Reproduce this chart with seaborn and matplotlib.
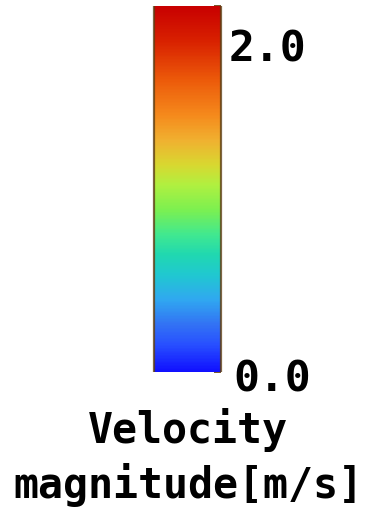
import numpy as np
import pandas as pd
import matplotlib
matplotlib.use("Agg")
import matplotlib.pyplot as plt
import matplotlib.transforms as mtransforms
from matplotlib.colors import LinearSegmentedColormap
from matplotlib.ticker import MultipleLocator
from matplotlib.lines import Line2D
import seaborn as sns

sns.set_theme(style="white")
plt.rcParams["font.family"] = ["DejaVu Sans Mono", "DejaVu Sans"]

# ---- data ----
velocity_range = [0.0, 2.0]
tick_values = [2.0, 0.0]
tick_labels = ["2.0", "0.0"]
title_lines = ["Velocity", "magnitude[m/s]"]
minor_step = 0.2
cmap_positions = [0.0, 0.074, 0.128, 0.197, 0.265, 0.320, 0.374, 0.443,
                  0.511, 0.566, 0.634, 0.702, 0.798, 0.907, 1.0]
cmap_colors = ["#1010ff", "#2850ff", "#3272f4", "#30a8f0", "#20c8d0", "#20d8b0",
               "#40e890", "#7cf050", "#b0f040", "#d8d830", "#f0b030", "#f58a1c",
               "#ec5a0a", "#d82000", "#c80000"]

cmap = LinearSegmentedColormap.from_list("velocity", list(zip(cmap_positions, cmap_colors)))

W, H = 369, 511
fig = plt.figure(figsize=(W / 100, H / 100), dpi=100)
fig.patch.set_facecolor("white")

hidden = fig.add_axes([0, 0, 0.01, 0.01])
cax = fig.add_axes([154 / W, (H - 372) / H, 67 / W, 366 / H])

sns.heatmap(pd.DataFrame([velocity_range]), cmap=cmap, vmin=velocity_range[0],
            vmax=velocity_range[1], ax=hidden, cbar_ax=cax)
hidden.set_visible(False)

cbar = hidden.collections[0].colorbar
cbar.outline.set_visible(False)
cbar.locator = MultipleLocator(minor_step)
cbar.update_ticks()
cax.tick_params(axis="y", which="major", direction="in", length=5, width=1.3,
                color="#6b4a1a", right=True, left=False, labelright=False,
                labelleft=False, zorder=5)

edge_color = "#5e3f14"
for xv in (0.0, 1.0):
    cax.add_line(Line2D([xv, xv], [0, 1], transform=cax.transAxes, color=edge_color,
                        lw=1.6, alpha=0.8, clip_on=False, solid_capstyle="butt"))

# tick labels (ParaView-style placement, inside the range ends)
blend = mtransforms.blended_transform_factory(cax.transAxes, cax.transData)
label_offsets = {2.0: (-4, -55), 0.0: (0, -19)}
for val, lab in zip(tick_values, tick_labels):
    dx, dy = label_offsets[val]
    tr = mtransforms.offset_copy(blend, fig=fig, x=dx, y=dy, units="dots")
    cax.text(1.18, val, lab, transform=tr, ha="left", va="baseline",
             fontsize=31, fontweight="bold", color="black", clip_on=False)

fig.text(0.51, 1 - 443 / H, title_lines[0], ha="center", va="baseline",
         fontsize=30, fontweight="bold", color="black")
fig.text(0.51, 1 - 498 / H, title_lines[1], ha="center", va="baseline",
         fontsize=30, fontweight="bold", color="black")

fig.savefig("out.png", dpi=100)
